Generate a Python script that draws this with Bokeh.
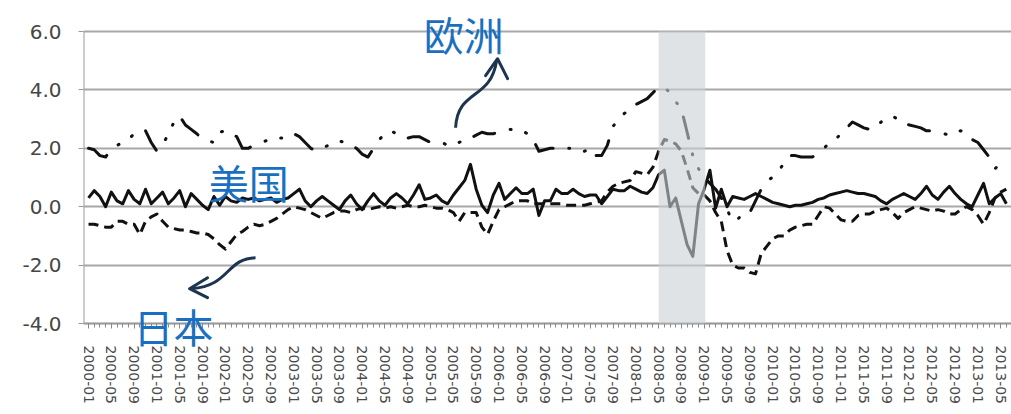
from bokeh.plotting import figure
from bokeh.models import FixedTicker, BoxAnnotation, Label, Range1d
from bokeh.embed import file_html
from bokeh.resources import INLINE

# month index 0 = 2000-01
months = list(range(162))

us = [0.3, 0.55, 0.35, 0.0, 0.5, 0.2, 0.1, 0.55, 0.25, 0.1,
      0.6, 0.1, 0.3, 0.5, 0.1, 0.3, 0.55, 0.0, 0.45, 0.25,
      0.05, -0.1, 0.35, 0.05, 0.35, 0.2, 0.15, 0.3, 0.25, 0.3,
      0.2, 0.25, 0.3, 0.15, 0.25, 0.3, 0.45, 0.6, 0.2, 0.0,
      0.2, 0.35, 0.2, 0.05, -0.1, 0.2, 0.4, 0.1, -0.1, 0.2,
      0.45, 0.2, 0.05, 0.3, 0.45, 0.3, 0.1, 0.4, 0.75, 0.25,
      0.3, 0.4, 0.2, 0.1, 0.4, 0.65, 0.9, 1.45, 0.6, 0.05,
      -0.2, 0.4, 0.8, 0.25, 0.45, 0.65, 0.45, 0.45, 0.6, -0.3,
      0.2, 0.2, 0.6, 0.45, 0.45, 0.6, 0.45, 0.35, 0.4, 0.4,
      0.1, 0.35, 0.6, 0.55, 0.55, 0.7, 0.6, 0.5, 0.45, 0.65,
      1.1, 1.25, 0.0, 0.3, -0.5, -1.3, -1.7, 0.1, 0.6, 1.25,
      -0.05, 0.6, 0.0, 0.35, 0.3, 0.25, 0.35, 0.45, 0.35, 0.25,
      0.15, 0.1, 0.05, 0.0, 0.05, 0.05, 0.1, 0.15, 0.25, 0.3,
      0.4, 0.45, 0.5, 0.55, 0.5, 0.45, 0.45, 0.4, 0.35, 0.2,
      0.1, 0.25, 0.35, 0.45, 0.35, 0.25, 0.45, 0.7, 0.4, 0.25,
      0.5, 0.7, 0.45, 0.25, 0.1, 0.0, 0.4, 0.8, 0.1, 0.3,
      0.45, 0.1]

japan = [-0.6, -0.6, -0.65, -0.7, -0.7, -0.5, -0.5, -0.6, -0.6, -0.95,
         -0.5, -0.35, -0.25, -0.5, -0.7, -0.75, -0.8, -0.8, -0.85, -0.9,
         -0.9, -0.95, -1.1, -1.3, -1.45, -1.2, -0.95, -0.85, -0.7, -0.6,
         -0.65, -0.6, -0.5, -0.4, -0.25, -0.1, 0.0, -0.05, -0.1, -0.2,
         -0.3, -0.4, -0.3, -0.2, -0.15, -0.15, -0.2, -0.1, -0.05, -0.1,
         -0.05, 0.0, -0.05, 0.0, -0.05, 0.0, 0.05, 0.0, 0.0, 0.05,
         0.0, -0.05, -0.05, -0.1, -0.2, -0.5, -0.2, -0.2, -0.2, -0.7,
         -0.95, -0.5, -0.1, 0.0, 0.1, 0.2, 0.2, 0.2, 0.1, 0.1,
         0.1, 0.1, 0.1, 0.1, 0.05, 0.05, 0.05, 0.05, 0.1, 0.15,
         0.2, 0.5, 0.7, 0.8, 0.85, 0.9, 1.2, 1.15, 1.1, 1.35,
         1.9, 2.3, 2.25, 2.15, 1.9, 1.3, 0.65, 0.45, 0.4, 0.2,
         -0.2, -0.5, -1.5, -2.0, -2.1, -2.1, -2.25, -2.3, -1.6, -1.35,
         -1.1, -1.0, -1.0, -0.8, -0.7, -0.65, -0.6, -0.6, -0.3, 0.0,
         -0.05, -0.25, -0.45, -0.5, -0.5, -0.3, -0.25, -0.25, -0.15, -0.1,
         -0.05, -0.2, -0.4, -0.2, -0.1, 0.0, -0.05, -0.1, -0.15, -0.1,
         -0.15, -0.25, -0.25, -0.1, 0.0, -0.1, -0.3, -0.6, -0.2, 0.3,
         0.5, 0.6]

europe = [2.0, 1.95, 1.75, 1.7, 2.0, 2.1, 2.2, 2.3, 2.5, 2.6,
          2.6, 2.2, 1.9, 2.1, 2.5, 2.9, 3.1, 2.8, 2.65, 2.5,
          2.3, 2.25, 2.2, 2.55, 2.6, 2.5, 2.4, 2.0, 2.0, 2.1,
          2.15, 2.25, 2.3, 2.35, 2.35, 2.4, 2.5, 2.4, 2.2, 2.0,
          1.9, 2.0, 2.1, 2.2, 2.25, 2.2, 2.1, 2.0, 1.8, 1.7,
          2.0, 2.3, 2.5, 2.6, 2.5, 2.4, 2.35, 2.4, 2.4, 2.3,
          2.2, 2.2, 2.2, 2.1, 2.1, 2.2, 2.3, 2.35, 2.45, 2.55,
          2.5, 2.5, 2.55, 2.6, 2.65, 2.6, 2.6, 2.5, 2.3, 1.9,
          1.95, 2.0, 2.0, 1.95, 2.0, 2.0, 1.95, 1.9, 2.0, 1.75,
          1.75, 2.1, 2.75, 3.0, 3.2, 3.3, 3.5, 3.6, 3.7, 3.9,
          4.1, 4.1, 3.9, 3.6, 3.35, 2.55, 1.75, 1.3, 1.0, 0.8,
          0.6, 0.3, -0.1, -0.5, -0.4, -0.2, -0.2, 0.2, 0.6, 0.9,
          1.0, 1.2, 1.5, 1.75, 1.75, 1.7, 1.7, 1.7, 1.9, 2.0,
          2.2, 2.3, 2.5, 2.7, 2.9, 2.8, 2.7, 2.65, 2.65, 2.9,
          3.0, 3.1, 3.0, 2.85, 2.8, 2.75, 2.7, 2.6, 2.6, 2.55,
          2.5, 2.45, 2.55, 2.6, 2.5, 2.3, 2.2, 1.95, 1.7, 1.3,
          1.5, 1.7]

x_tick_labels = ["2000-01", "2000-05", "2000-09", "2001-01", "2001-05", "2001-09",
                 "2002-01", "2002-05", "2002-09", "2003-01", "2003-05", "2003-09",
                 "2004-01", "2004-05", "2004-09", "2005-01", "2005-05", "2005-09",
                 "2006-01", "2006-05", "2006-09", "2007-01", "2007-05", "2007-09",
                 "2008-01", "2008-05", "2008-09", "2009-01", "2009-05", "2009-09",
                 "2010-01", "2010-05", "2010-09", "2011-01", "2011-05", "2011-09",
                 "2012-01", "2012-05", "2012-09", "2013-01", "2013-05"]
x_tick_pos = [4 * i for i in range(len(x_tick_labels))]

y_ticks = [-4, -2, 0, 2, 4, 6]
y_tick_labels = ["-4.0", "-2.0", "0.0", "2.0", "4.0", "6.0"]
y_min, y_max = -4, 6

crisis_start = 100
crisis_end = 108.2

# the frame covers the whole height so that labels above 6.0 and below -4.0 stay visible
p = figure(width=1011, height=414, output_backend="svg", toolbar_location=None,
           x_range=Range1d(-0.88, 161.9), y_range=Range1d(-7.116, 7.062),
           min_border_left=83, min_border_right=0, min_border_top=0,
           min_border_bottom=0)
p.outline_line_color = None
p.background_fill_color = "white"
p.border_fill_color = "white"

p.xgrid.visible = False
p.ygrid.grid_line_color = "#a8a8a8"
p.ygrid.grid_line_width = 2

p.yaxis.ticker = FixedTicker(ticks=y_ticks, minor_ticks=[])
p.yaxis.major_label_overrides = dict(zip(y_ticks, y_tick_labels))
p.yaxis.major_label_text_font = "DejaVu Sans"
p.yaxis.major_label_text_font_size = "20px"
p.yaxis.major_label_text_color = "#464646"
p.yaxis.axis_line_color = None
p.yaxis.major_tick_line_color = "#9a9a9a"
p.yaxis.major_tick_out = 5
p.yaxis.major_tick_in = 0
p.yaxis.minor_tick_line_color = None
p.yaxis.major_label_standoff = 17

# x axis sits on the -4.0 line
p.xaxis.fixed_location = y_min
p.xaxis.ticker = FixedTicker(ticks=x_tick_pos, minor_ticks=months)
p.xaxis.major_label_overrides = dict(zip(x_tick_pos, x_tick_labels))
p.xaxis.major_label_orientation = "vertical"
p.xaxis.major_label_text_font = "DejaVu Sans"
p.xaxis.major_label_text_font_size = "14px"
p.xaxis.major_label_text_color = "#4a4a4a"
p.xaxis.axis_line_color = "#9a9a9a"
p.xaxis.axis_line_width = 1.5
p.xaxis.major_tick_line_color = "#8a8a8a"
p.xaxis.minor_tick_line_color = "#8a8a8a"
p.xaxis.major_tick_out = 5
p.xaxis.major_tick_in = 0
p.xaxis.minor_tick_out = 4
p.xaxis.minor_tick_in = 0
p.xaxis.major_label_standoff = 17

# vertical axis line only between -4.0 and 6.0
p.segment(x0=[-0.88], y0=[y_min], x1=[-0.88], y1=[y_max],
          line_color="#9a9a9a", line_width=2)

p.line(months, us, line_color="#111111", line_width=3, line_join="round")
p.line(months, japan, line_color="#111111", line_width=3, line_dash="10 6",
       line_join="round")
p.line(months, europe, line_color="#111111", line_width=3,
       line_dash="22 16 1 15 1 15", line_cap="round", line_join="round")

band = BoxAnnotation(left=crisis_start, right=crisis_end, top=y_max, bottom=y_min,
                     fill_color="#cbd0d6", fill_alpha=0.6, line_color=None)
p.add_layout(band)

# annotation arrows (navy, curved)
arrow_color = "#1e3550"
p.bezier(x0=[64.39, 29.30], y0=[2.705, -1.747],
         x1=[71.58, 18.07], y1=[5.0, -2.808],
         cx0=[64.74, 24.04], cy0=[4.041, -1.781],
         cx1=[70.53, 24.91], cy1=[3.630, -2.705],
         line_color=arrow_color, line_width=3)
p.multi_line(xs=[[69.65, 71.75, 73.51], [20.88, 17.72, 20.88]],
             ys=[[4.486, 5.068, 4.384], [-2.432, -2.808, -3.116]],
             line_color=arrow_color, line_width=3, line_join="round",
             line_cap="round")

label_color = "#1a70c0"
for txt, lx, ly in [("欧洲", 65.8, 5.9), ("美国", 28.1, 0.86), ("日本", 14.9, -4.08)]:
    p.add_layout(Label(x=lx, y=ly, text=txt, text_font="Noto Sans CJK SC",
                       text_font_size="40px", text_color=label_color,
                       text_align="center", text_baseline="middle"))

open("out.html", "w").write(file_html(p, INLINE))
